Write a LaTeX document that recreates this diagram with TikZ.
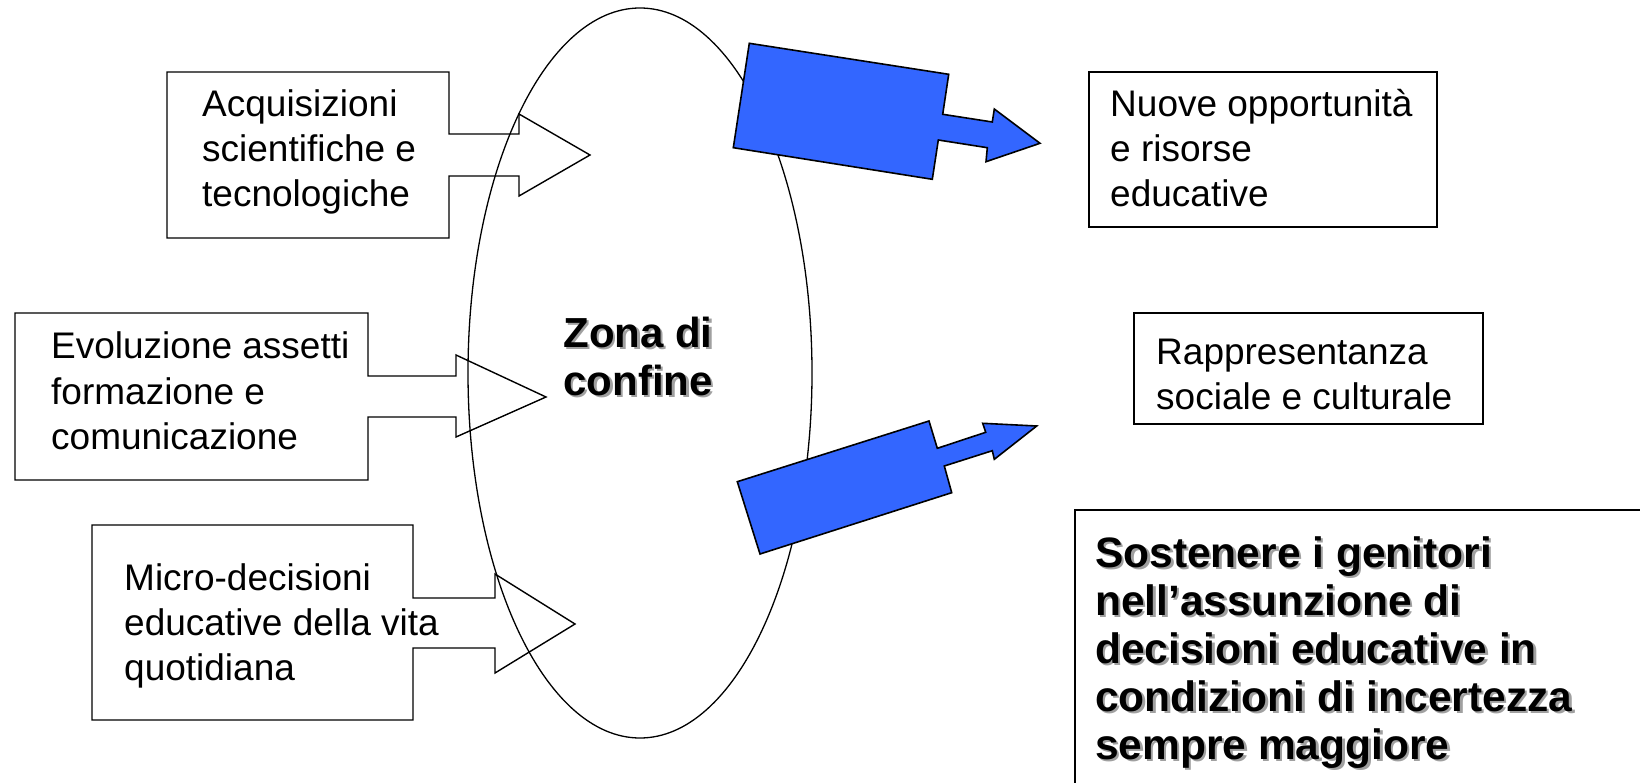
\documentclass[tikz,border=0pt]{standalone}
\usepackage{fontspec}
\setmainfont{Liberation Sans}
\definecolor{arrowblue}{RGB}{51,102,255}
\definecolor{shadowgray}{RGB}{160,160,160}
\begin{document}
\begin{tikzpicture}[x=1pt,y=-1pt,
  outline/.style={draw=black,line width=1.4pt,line join=miter},
  thinbox/.style={draw=black,line width=1.2pt},
  bluearrow/.style={draw=black,line width=1.6pt,fill=arrowblue,line join=miter},
  txt/.style={anchor=base west,inner sep=0pt,font=\fontsize{37}{45}\selectfont},
  boldtxt/.style={anchor=base west,inner sep=0pt,font=\bfseries\fontsize{42.5}{48}\selectfont},
  shadowtxt/.style={text=shadowgray}
]
\clip (0,0) rectangle (1640,783);
\useasboundingbox (0,0) rectangle (1640,783);

% central ellipse
\draw[line width=1.3pt] (640,373) ellipse [x radius=172pt, y radius=365pt];

% left callouts
\draw[outline] (449,134) -- (519,134) -- (519,114) -- (590,155) -- (519,196) -- (519,176) -- (449,176)
  -- (449,238) -- (167,238) -- (167,72) -- (449,72) -- cycle;
\draw[outline] (368,376) -- (456,376) -- (456,355) -- (546,397) -- (456,437) -- (456,417) -- (368,417)
  -- (368,480) -- (15,480) -- (15,313) -- (368,313) -- cycle;
\draw[outline] (413,598) -- (495,598) -- (495,574) -- (575,624) -- (495,673) -- (495,648) -- (413,648)
  -- (413,720) -- (92,720) -- (92,525) -- (413,525) -- cycle;

% blue arrows
\draw[bluearrow] (749.3,43.3) -- (948.7,74.3) -- (942.7,114.3) -- (992.3,122) -- (994.3,109)
  -- (1040,143.3) -- (986,161.7) -- (987.3,147.7) -- (938.3,140) -- (932.3,179.3) -- (733.3,147.7) -- cycle;
\draw[bluearrow] (760,554) -- (737.3,481.7) -- (929,421) -- (937.3,448.3) -- (985.7,432.3) -- (982.7,423.3)
  -- (1036.7,426) -- (994.3,459.3) -- (992.3,450.7) -- (944.3,466) -- (951.7,492.7) -- cycle;

% right boxes
\draw[thinbox] (1089,72) rectangle (1437,227);
\draw[thinbox] (1134,313) rectangle (1483,424);
\draw[outline] (1075,510) rectangle (1700,850);

% texts
\node[txt] (t1) at (202,117) {\vtop{\hbox{Acquisizioni}\hbox{scientifiche e}\hbox{tecnologiche}}};
\node[txt] (t2) at (51,359) {\vtop{\hbox{Evoluzione assetti}\hbox{formazione e}\hbox{comunicazione}}};
\node[txt] (t3) at (124,590) {\vtop{\hbox{Micro-decisioni}\hbox{educative della vita}\hbox{quotidiana}}};
\node[txt] (t4) at (1110,117) {\vtop{\hbox{Nuove opportunità}\hbox{e risorse}\hbox{educative}}};
\node[txt] (t5) at (1156,364) {\vtop{\hbox{Rappresentanza}\hbox{sociale e culturale}}};

\node[boldtxt,shadowtxt,anchor=base,font=\bfseries\fontsize{42}{48}\selectfont] (z0) at (640.5,349.5) {\vtop{\hbox to 170pt{\hfil Zona di\hfil}\hbox to 170pt{\hfil confine\hfil}}};
\node[boldtxt,anchor=base,font=\bfseries\fontsize{42}{48}\selectfont] (z) at (638,347) {\vtop{\hbox to 170pt{\hfil Zona di\hfil}\hbox to 170pt{\hfil confine\hfil}}};

\node[boldtxt,shadowtxt] (b0) at (1097.5,569.5) {\vtop{\hbox{Sostenere i genitori}\hbox{nell’assunzione di}\hbox{decisioni educative in}\hbox{condizioni di incertezza}\hbox{sempre maggiore}}};
\node[boldtxt] (b) at (1095,567) {\vtop{\hbox{Sostenere i genitori}\hbox{nell’assunzione di}\hbox{decisioni educative in}\hbox{condizioni di incertezza}\hbox{sempre maggiore}}};
\end{tikzpicture}
\end{document}
